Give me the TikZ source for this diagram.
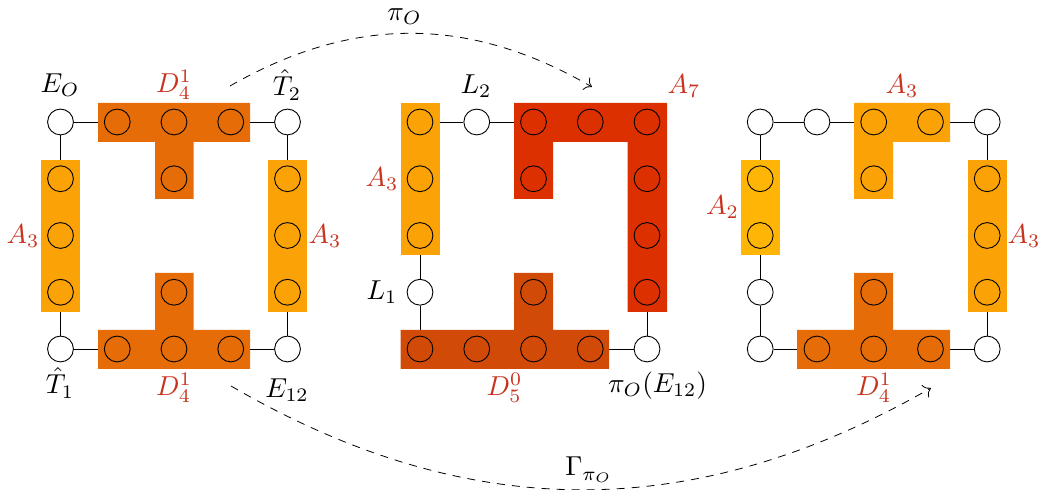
\documentclass[tikz,border=0pt]{standalone}
\usepackage{amsmath}
\usetikzlibrary{arrows.meta}
\definecolor{cA}{HTML}{FBA306}
\definecolor{cB}{HTML}{FFB506}
\definecolor{cD}{HTML}{E56C06}
\definecolor{cE}{HTML}{D24A08}
\definecolor{cF}{HTML}{DD3000}
\definecolor{lab}{HTML}{C8321E}
\pgfdeclarelayer{edges}
\pgfdeclarelayer{fills}
\pgfsetlayers{edges,fills,main}
\tikzset{
  vtx/.style={circle,draw=black,line width=0.45pt,minimum size=12.9pt,inner sep=0pt},
  free/.style={vtx,fill=white},
  bound/.style={vtx},
  edge/.style={draw=black,line width=0.45pt},
  blob/.style={line width=0pt},
  redlab/.style={text=lab,inner sep=0pt,scale=1.37},
  blacklab/.style={text=black,inner sep=0pt,scale=1.37},
  curve/.style={draw=black,line width=0.4pt,dash pattern=on 4pt off 3.5pt,-{Computer Modern Rightarrow[scale=1.4,sep=0pt]}}
}
\begin{document}
\begin{tikzpicture}[x=0.5pt,y=-0.5pt]
\useasboundingbox (0,0) rectangle (1042,490);
% grid of sites: panel offsets and rows
\foreach \p/\xo in {a/60.5,b/420,c/760.2}{
  \foreach \i in {0,...,4}{
    \foreach \j in {0,...,4}{
      \pgfmathsetmacro{\xx}{\xo+56.75*\i}
      \pgfmathsetmacro{\yy}{122+56.75*\j}
      \coordinate (\p\i\j) at (\xx,\yy);
    }
  }
}
% free sites
\foreach \n in {a00,a40,a04,a44,b10,b03,b44,c00,c10,c40,c03,c04,c44}{
  \node[free] (v\n) at (\n) {};
}
% sites on coloured blocks
\foreach \n in {a10,a20,a30,a21,a01,a02,a03,a41,a42,a43,a23,a14,a24,a34,
                b00,b01,b02,b20,b30,b40,b21,b41,b42,b43,b04,b14,b24,b34,b23,
                c01,c02,c20,c30,c21,c41,c42,c43,c23,c14,c24,c34}{
  \node[bound] (v\n) at (\n) {};
}
% connectors
\begin{pgfonlayer}{edges}
\draw[edge] (va00) -- (va10);
\draw[edge] (va30) -- (va40);
\draw[edge] (va00) -- (va01);
\draw[edge] (va40) -- (va41);
\draw[edge] (va03) -- (va04);
\draw[edge] (va43) -- (va44);
\draw[edge] (va04) -- (va14);
\draw[edge] (va34) -- (va44);
\draw[edge] (vb00) -- (vb10);
\draw[edge] (vb10) -- (vb20);
\draw[edge] (vb02) -- (vb03);
\draw[edge] (vb03) -- (vb04);
\draw[edge] (vb43) -- (vb44);
\draw[edge] (vb34) -- (vb44);
\draw[edge] (vc00) -- (vc10);
\draw[edge] (vc10) -- (vc20);
\draw[edge] (vc30) -- (vc40);
\draw[edge] (vc00) -- (vc01);
\draw[edge] (vc40) -- (vc41);
\draw[edge] (vc02) -- (vc03);
\draw[edge] (vc03) -- (vc04);
\draw[edge] (vc04) -- (vc14);
\draw[edge] (vc34) -- (vc44);
\draw[edge] (vc43) -- (vc44);
\end{pgfonlayer}
% coloured blocks
\begin{pgfonlayer}{fills}
\fill[cA,blob] (41,160) rectangle (80,312);
\fill[cA,blob] (268,160) rectangle (307,312);
\fill[cD,blob] (98,103) -- (250,103) -- (250,142) -- (193.5,142) -- (193.5,199) -- (155,199) -- (155,142) -- (98,142) -- cycle;
\fill[cD,blob] (98,369) -- (250,369) -- (250,330) -- (193.5,330) -- (193.5,273) -- (155,273) -- (155,330) -- (98,330) -- cycle;
\fill[cA,blob] (400.5,103) rectangle (439.5,255);
\fill[cF,blob] (514,103) -- (667,103) -- (667,312) -- (627.5,312) -- (627.5,142) -- (553,142) -- (553,199) -- (514,199) -- cycle;
\fill[cE,blob] (400.5,369) -- (609,369) -- (609,330) -- (553,330) -- (553,273) -- (514,273) -- (514,330) -- (400.5,330) -- cycle;
\fill[cB,blob] (741,160) rectangle (780,255);
\fill[cA,blob] (968,160) rectangle (1007,312);
\fill[cA,blob] (854,103) -- (950,103) -- (950,142) -- (893,142) -- (893,199) -- (854,199) -- cycle;
\fill[cD,blob] (797,369) -- (950,369) -- (950,330) -- (893,330) -- (893,273) -- (854,273) -- (854,330) -- (797,330) -- cycle;
\end{pgfonlayer}
% labels, left
\node[blacklab] (l1) at (60,85.5) {$E_O$};
\node[blacklab] (l2) at (287,85) {$\hat{T}_2$};
\node[redlab] (l3) at (174,85) {$D_4^1$};
\node[redlab] (l4) at (23,236) {$A_3$};
\node[redlab] (l5) at (325,236) {$A_3$};
\node[blacklab] (l6) at (60,383) {$\hat{T}_1$};
\node[redlab] (l7) at (174,388) {$D_4^1$};
\node[blacklab] (l8) at (287,390) {$E_{12}$};
% labels, middle
\node[redlab] (m1) at (382,179) {$A_3$};
\node[blacklab] (m2) at (476,86) {$L_2$};
\node[redlab] (m3) at (684,86) {$A_7$};
\node[blacklab] (m4) at (382,292) {$L_1$};
\node[redlab] (m5) at (504.5,388) {$D_5^0$};
\node[blacklab] (m6) at (657.5,385.5) {$\pi_O(E_{12})$};
% labels, right
\node[redlab] (r1) at (722.5,207) {$A_2$};
\node[redlab] (r2) at (902,86) {$A_3$};
\node[redlab] (r3) at (1024,236) {$A_3$};
\node[redlab] (r4) at (874,388) {$D_4^1$};
% curved arrows
\coordinate (s1) at (230,86);
\coordinate (e1) at (592,87);
\coordinate (s2) at (231,386);
\coordinate (e2) at (931,388);
\draw[curve] (s1) to[bend left=30] (e1);
\draw[curve] (s2) to[bend right=30] (e2);
\node[blacklab] (t1) at (404.5,17) {$\pi_O$};
\node[blacklab] (t2) at (589,470) {$\Gamma_{\pi_O}$};
\end{tikzpicture}
\end{document}
